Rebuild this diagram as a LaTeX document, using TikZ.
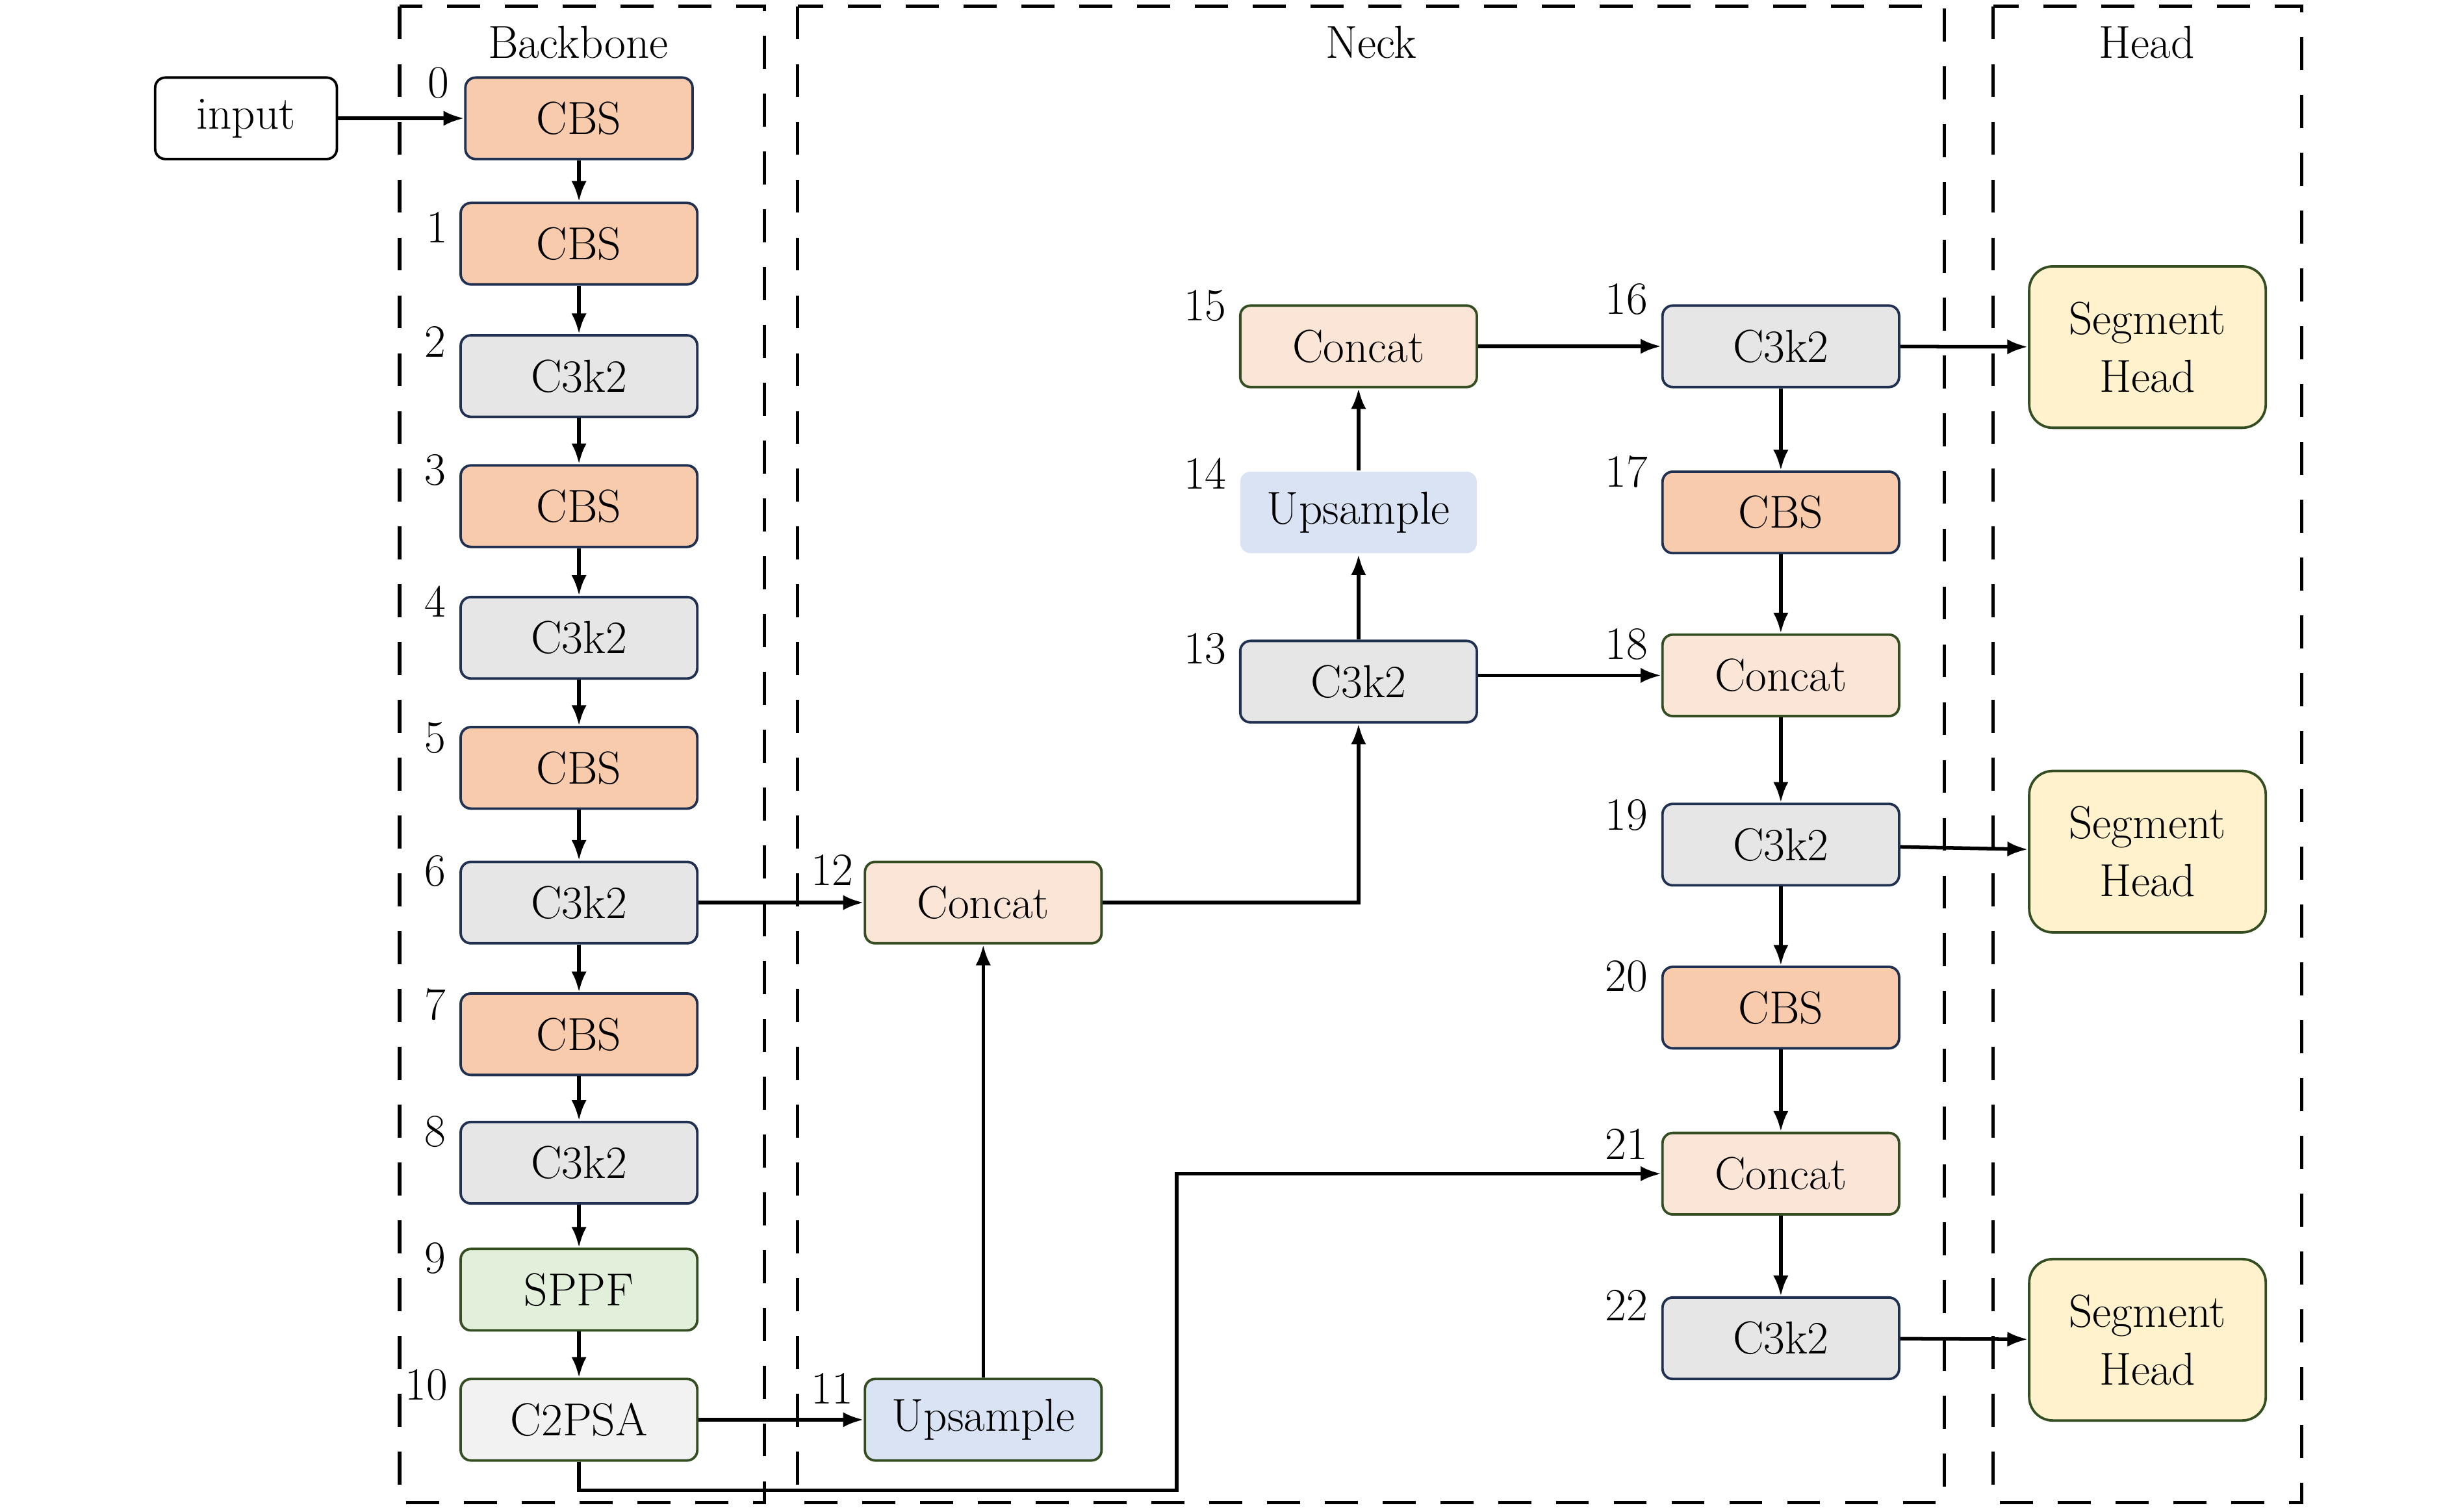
\documentclass[tikz,border=0pt]{standalone}
\usepackage{tikz}
\usepackage{color}
\usetikzlibrary{arrows.meta,calc}
\definecolor{cbsfill}{HTML}{F8CBAD}
\definecolor{cfill}{HTML}{E6E6E6}
\definecolor{catfill}{HTML}{FBE5D6}
\definecolor{upfill}{HTML}{DAE3F3}
\definecolor{sppffill}{HTML}{E2EFDA}
\definecolor{psafill}{HTML}{F2F2F2}
\definecolor{segfill}{HTML}{FFF2CC}
\definecolor{navyline}{HTML}{1F3050}
\definecolor{greenline}{HTML}{344E22}
\tikzset{
%Define standard arrow tip
>={Latex[length=7.5pt,width=5.5pt]},
%Define style for the blocks
block/.style={draw, rounded corners=0.13cm, line width=0.9pt, minimum width=3.02cm, minimum height=1.04cm, inner sep=0pt},
cbs/.style={block, fill=cbsfill, draw=navyline},
cthree/.style={block, fill=cfill, draw=navyline},
concat/.style={block, fill=catfill, draw=greenline},
upsample/.style={block, fill=upfill, draw=greenline},
sppf/.style={block, fill=sppffill, draw=greenline},
psa/.style={block, fill=psafill, draw=greenline},
seghead/.style={block, fill=segfill, draw=greenline, rounded corners=0.3cm, minimum height=2.06cm, align=center, font=\fontsize{16.8}{21}\selectfont},
%Define style for the layer numbers and the regions
num/.style={anchor=east, inner sep=0pt},
region/.style={line width=1.2pt, dash pattern=on 12pt off 9pt},
connection/.style={->, line width=1.3pt},
}

\begin{document}
\begin{tikzpicture}[x=0.02cm, y=-0.02cm, font=\fontsize{16.8}{20}\selectfont]
    \useasboundingbox (0,0) rectangle (1567.4,964.9);
    % Regions
    \draw[region] (255,4) rectangle (488,959);
    \draw[region] (509,4) rectangle (1241,959);
    \draw[region] (1272,4) rectangle (1469,959);
    \node (tback) at (369,27) {Backbone};
    \node (tneck) at (875,27) {Neck};
    \node (thead) at (1370,27) {Head};

    % Backbone
    \node[block, minimum width=2.32cm] (in) at (157,75.5) {input};
    \node[cbs, minimum width=2.9cm] (b0) at (369.5,75.5) {CBS};
    \node[cbs] (b1) at (369.5,155.5) {CBS};
    \node[cthree] (b2) at (369.5,240) {C3k2};
    \node[cbs] (b3) at (369.5,323) {CBS};
    \node[cthree] (b4) at (369.5,407) {C3k2};
    \node[cbs] (b5) at (369.5,490) {CBS};
    \node[cthree] (b6) at (369.5,576) {C3k2};
    \node[cbs] (b7) at (369.5,660) {CBS};
    \node[cthree] (b8) at (369.5,742) {C3k2};
    \node[sppf] (b9) at (369.5,823) {SPPF};
    \node[psa] (b10) at (369.5,906) {C2PSA};

    % Neck
    \node[upsample] (b11) at (627.5,906) {Upsample};
    \node[concat] (b12) at (627.5,576) {Concat};
    \node[cthree] (b13) at (867,435) {C3k2};
    \node[upsample, draw=none] (b14) at (867,327) {Upsample};
    \node[concat] (b15) at (867,221) {Concat};
    \node[cthree] (b16) at (1136.5,221) {C3k2};
    \node[cbs] (b17) at (1136.5,327) {CBS};
    \node[concat] (b18) at (1136.5,431) {Concat};
    \node[cthree] (b19) at (1136.5,539) {C3k2};
    \node[cbs] (b20) at (1136.5,643) {CBS};
    \node[concat] (b21) at (1136.5,749) {Concat};
    \node[cthree] (b22) at (1136.5,854) {C3k2};

    % Head
    \node[seghead] (h1) at (1370.5,221.5) {Segment\\Head};
    \node[seghead] (h2) at (1370.5,543.5) {Segment\\Head};
    \node[seghead] (h3) at (1370.5,855) {Segment\\Head};

    % Layer numbers
    \node[num] (l0) at (287,53) {0};
    \node[num] (l1) at (286,145) {1};
    \node[num] (l2) at (285,218) {2};
    \node[num] (l3) at (285,300) {3};
    \node[num] (l4) at (285,384) {4};
    \node[num] (l5) at (285,471) {5};
    \node[num] (l6) at (285,556) {6};
    \node[num] (l7) at (285,641) {7};
    \node[num] (l8) at (285,722) {8};
    \node[num] (l9) at (285,803) {9};
    \node[num] (l10) at (286,884) {10};
    \node[num] (l11) at (545,886) {11};
    \node[num] (l12) at (545,555) {12};
    \node[num] (l13) at (783,414) {13};
    \node[num] (l14) at (783,302) {14};
    \node[num] (l15) at (783,195) {15};
    \node[num] (l16) at (1052,191) {16};
    \node[num] (l17) at (1052,301) {17};
    \node[num] (l18) at (1052,411) {18};
    \node[num] (l19) at (1052,520) {19};
    \node[num] (l20) at (1052,623) {20};
    \node[num] (l21) at (1052,730) {21};
    \node[num] (l22) at (1052,833) {22};

    % Connections
    \draw[connection] (in) -- (b0);
    \draw[connection] (b0) -- (b1);
    \draw[connection] (b1) -- (b2);
    \draw[connection] (b2) -- (b3);
    \draw[connection] (b3) -- (b4);
    \draw[connection] (b4) -- (b5);
    \draw[connection] (b5) -- (b6);
    \draw[connection] (b6) -- (b7);
    \draw[connection] (b7) -- (b8);
    \draw[connection] (b8) -- (b9);
    \draw[connection] (b9) -- (b10);
    \draw[connection] (b6) -- (b12);
    \draw[connection] (b10) -- (b11);
    \draw[connection] (b11) -- (b12);
    \draw[connection] (b12) -| (b13);
    \draw[connection] (b13) -- (b14);
    \draw[connection] (b14) -- (b15);
    \draw[connection] (b15) -- (b16);
    \draw[connection] (b13.east |- b18.west) -- (b18.west);
    \draw[connection] (b16) -- (b17);
    \draw[connection] (b17) -- (b18);
    \draw[connection] (b18) -- (b19);
    \draw[connection] (b19) -- (b20);
    \draw[connection] (b20) -- (b21);
    \draw[connection] (b21) -- (b22);
    \coordinate (k) at (751,951);
    \draw[connection] (b10.south) |- (k) |- (b21.west);
    \draw[connection] (b16) -- (h1);
    \draw[connection] (b19) -- (h2);
    \draw[connection] (b22) -- (h3);
\end{tikzpicture}
\end{document}
